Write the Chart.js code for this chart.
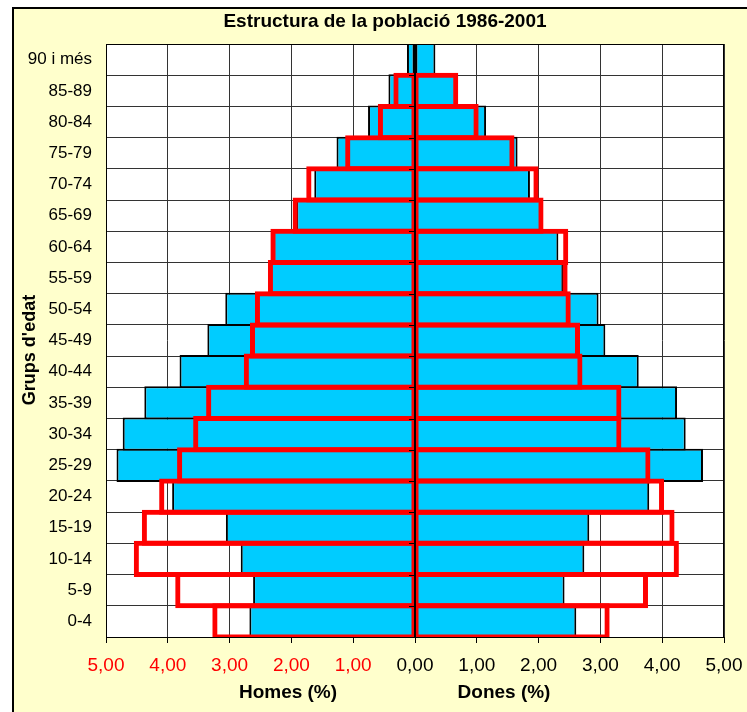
<!DOCTYPE html>
<html>
<head>
<meta charset="utf-8">
<script src="https://cdn.jsdelivr.net/npm/chart.js@4/dist/chart.umd.min.js"></script>
<style>
  html, body { margin: 0; padding: 0; background: #ffffff; }
  #wrap { position: relative; width: 747px; height: 712px; }
</style>
</head>
<body>
<div id="wrap"><canvas id="pyramid" width="747" height="712"></canvas></div>
<script>
// Age groups, top to bottom
const grups = ["90 i més", "85-89", "80-84", "75-79", "70-74", "65-69", "60-64", "55-59", "50-54",
  "45-49", "40-44", "35-39", "30-34", "25-29", "20-24", "15-19", "10-14", "5-9", "0-4"];

// 2001 (blue filled bars)
const homes2001 = [0.13, 0.43, 0.76, 1.27, 1.63, 1.92, 2.29, 2.36, 3.07, 3.36, 3.81, 4.38, 4.73, 4.83, 3.93, 3.06, 2.82, 2.62, 2.68];
const dones2001 = [0.33, 0.66, 1.15, 1.66, 1.86, 2.04, 2.32, 2.40, 2.97, 3.08, 3.62, 4.24, 4.38, 4.66, 3.79, 2.82, 2.74, 2.42, 2.61];

// 1986 (red outlined bars)
const homes1986 = [null, 0.35, 0.60, 1.13, 1.76, 1.98, 2.34, 2.38, 2.59, 2.67, 2.77, 3.38, 3.59, 3.85, 4.14, 4.42, 4.55, 3.88, 3.28];
const dones1986 = [null, 0.70, 1.03, 1.61, 2.00, 2.08, 2.48, 2.47, 2.52, 2.67, 2.71, 3.34, 3.34, 3.81, 4.03, 4.20, 4.27, 3.77, 3.15];

const xTicks = [-5, -4, -3, -2, -1, 0, 1, 2, 3, 4, 5];

const FONT = "'Liberation Sans', Arial, sans-serif";
const neg = arr => arr.map(v => (v === null ? null : -v));

// frame, plot background, zero axis and free texts
const decor = {
  id: "decor",
  beforeDraw(chart) {
    const { ctx, chartArea: a } = chart;
    ctx.save();
    ctx.fillStyle = "#ffffff";
    ctx.fillRect(0, 0, chart.width, chart.height);
    ctx.fillStyle = "#FFFFCC";
    ctx.fillRect(13, 8, chart.width, chart.height);
    ctx.strokeStyle = "#000000";
    ctx.lineWidth = 2;
    ctx.strokeRect(13, 8, chart.width + 10, chart.height + 10);
    ctx.fillStyle = "#ffffff";
    ctx.fillRect(a.left, a.top, a.right - a.left, a.bottom - a.top);
    ctx.restore();
  },
  afterDatasetsDraw(chart) {
    const { ctx, chartArea: a, scales } = chart;
    const x0 = scales.x.getPixelForValue(0);
    ctx.save();
    ctx.strokeStyle = "#000000";
    ctx.lineWidth = 2;
    ctx.beginPath();
    ctx.moveTo(x0, a.top);
    ctx.lineTo(x0, a.bottom);
    ctx.stroke();
    // small ticks of the category axis at the group boundaries
    ctx.lineWidth = 1;
    const step = (a.bottom - a.top) / grups.length;
    for (let i = 1; i < grups.length; i++) {
      const y = Math.round(a.top + i * step) + 0.5;
      ctx.beginPath();
      ctx.moveTo(x0 - 6, y);
      ctx.lineTo(x0, y);
      ctx.stroke();
    }
    ctx.strokeRect(a.left + 0.5, a.top + 0.5, a.right - a.left - 1, a.bottom - a.top);
    ctx.restore();
  },
  afterDraw(chart) {
    const { ctx } = chart;
    ctx.save();
    ctx.fillStyle = "#000000";
    ctx.textAlign = "center";
    ctx.textBaseline = "middle";
    ctx.font = "bold 19px " + FONT;
    ctx.fillText("Estructura de la població 1986-2001", 385, 22);
    ctx.fillText("Homes (%)", 288, 693);
    ctx.fillText("Dones (%)", 504, 693);
    ctx.translate(30, 350);
    ctx.rotate(-Math.PI / 2);
    ctx.font = "bold 18px " + FONT;
    ctx.fillText("Grups d'edat", 0, 0);
    ctx.restore();
  }
};

const rowRed = { categoryPercentage: 1, barPercentage: 1.16, grouped: false, borderSkipped: false,
  borderColor: "#FF0000", backgroundColor: "rgba(0,0,0,0)", clip: 0, order: 0 };
const rowBlue = { categoryPercentage: 1, barPercentage: 1.064, grouped: false, borderSkipped: false,
  borderColor: "#000000", backgroundColor: "#00CCFF", borderWidth: 2, clip: 0, order: 1 };

new Chart(document.getElementById("pyramid"), {
  type: "bar",
  data: {
    labels: grups,
    datasets: [
      Object.assign({ label: "Homes 1986", data: neg(homes1986),
        borderWidth: { top: 5, bottom: 5, left: 5, right: 3 } }, rowRed),
      Object.assign({ label: "Dones 1986", data: dones1986,
        borderWidth: { top: 5, bottom: 5, left: 3, right: 5 } }, rowRed),
      Object.assign({ label: "Homes 2001", data: neg(homes2001) }, rowBlue),
      Object.assign({ label: "Dones 2001", data: dones2001 }, rowBlue)
    ]
  },
  options: {
    indexAxis: "y",
    responsive: false,
    animation: false,
    layout: { padding: { left: 0, top: 44, right: 23, bottom: 0 } },
    plugins: { legend: { display: false }, tooltip: { enabled: false }, title: { display: false } },
    scales: {
      x: {
        type: "linear",
        min: -5,
        max: 5,
        afterFit(scale) {
          scale.height = 75;
          scale.paddingLeft = 0;
          scale.paddingRight = 0;
        },
        afterBuildTicks(scale) { scale.ticks = xTicks.map(v => ({ value: v })); },
        ticks: {
          padding: 11,
          font: { family: FONT, size: 19 },
          color: c => (c.tick && c.tick.value < 0 ? "#FF0000" : "#000000"),
          callback: v => Math.abs(v).toFixed(2).replace(".", ",")
        },
        grid: {
          color: "#333333",
          lineWidth: 1,
          borderDash: [9, 6],
          tickLength: 6,
          tickColor: "#000000",
          tickBorderDash: []
        },
        border: { display: true, color: "#000000", width: 1 }
      },
      y: {
        afterFit(scale) {
          scale.width = 106;
          scale.paddingTop = 0;
          scale.paddingBottom = 0;
        },
        ticks: { padding: 14, color: "#000000", font: { family: FONT, size: 17 } },
        grid: { offset: true, color: "#333333", borderDash: [9, 6], drawTicks: false },
        border: { display: true, color: "#000000", width: 1 }
      }
    }
  },
  plugins: [decor]
});
</script>
</body>
</html>
